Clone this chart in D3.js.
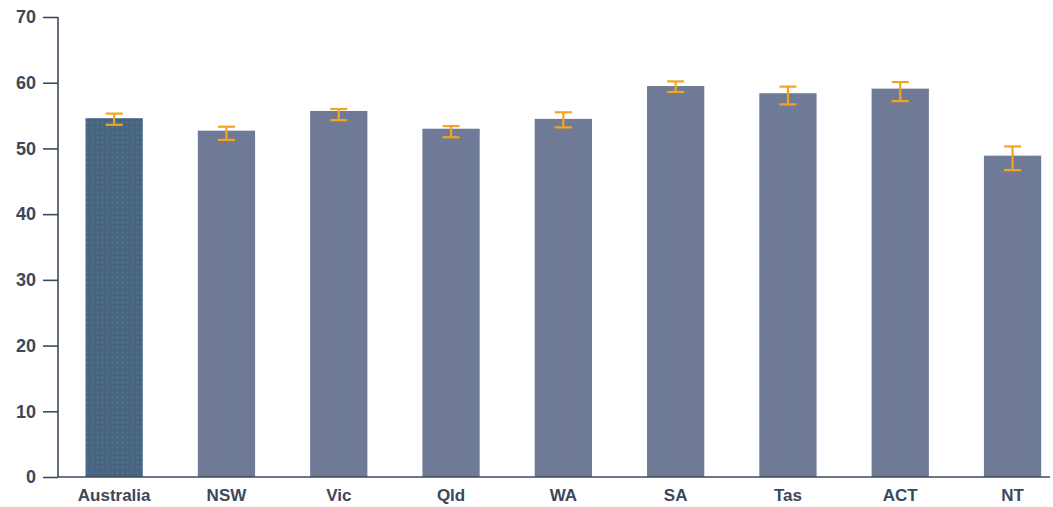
<!DOCTYPE html>
<html>
<head>
<meta charset="utf-8">
<script src="https://cdn.jsdelivr.net/npm/d3@7"></script>
<style>
  html, body { margin: 0; padding: 0; background: #ffffff; }
  svg { display: block; }
  text { font-family: "Liberation Sans", Arial, sans-serif; }
</style>
</head>
<body>
<svg id="chart" width="1053" height="507"></svg>
<script>
const categories = ["Australia", "NSW", "Vic", "Qld", "WA", "SA", "Tas", "ACT", "NT"];
const values = [54.6, 52.7, 55.7, 53.0, 54.5, 59.5, 58.4, 59.1, 48.9];
const upper = [55.3, 53.3, 56.0, 53.4, 55.5, 60.2, 59.4, 60.1, 50.3];
const lower = [53.6, 51.3, 54.3, 51.7, 53.2, 58.6, 56.7, 57.2, 46.7];
const yTicks = [0, 10, 20, 30, 40, 50, 60, 70];

(function () {
const svg = d3.select("#chart");
const mLeft = 58, mTop = 17, mBottom = 477, mRight = 1050;
const axisColor = "#3d4a5e";
const textColor = "#3b475b";

const x = d3.scaleBand().domain(categories).range([mLeft, mLeft + 9 * 112.3]).paddingInner(0.49).paddingOuter(0.245);
const y = d3.scaleLinear().domain([0, 70]).range([mBottom, mTop]);

const defs = svg.append("defs");
function dotPattern(id, bg, dot) {
  const p = defs.append("pattern").attr("id", id).attr("patternUnits", "userSpaceOnUse")
    .attr("width", 5).attr("height", 5);
  p.append("rect").attr("width", 5).attr("height", 5).attr("fill", bg);
  p.append("circle").attr("cx", 2.5).attr("cy", 2.5).attr("r", 0.9).attr("fill", dot);
}
dotPattern("patA", "#4a6480", "#3f7e9a");
dotPattern("patB", "#6d7b96", "#82749a");

// bars
svg.append("g").selectAll("rect").data(categories).join("rect")
  .attr("x", d => x(d))
  .attr("width", x.bandwidth())
  .attr("y", (d, i) => y(values[i]))
  .attr("height", (d, i) => y(0) - y(values[i]))
  .attr("fill", (d, i) => i === 0 ? "url(#patA)" : "url(#patB)");

// error bars
const eb = svg.append("g").attr("stroke", "#f5a51c").attr("stroke-width", 2.2).attr("fill", "none");
categories.forEach((c, i) => {
  const cx = x(c) + x.bandwidth() / 2;
  const cw = 8.5;
  eb.append("line").attr("x1", cx).attr("x2", cx).attr("y1", y(upper[i])).attr("y2", y(lower[i]));
  eb.append("line").attr("x1", cx - cw).attr("x2", cx + cw).attr("y1", y(upper[i])).attr("y2", y(upper[i]));
  eb.append("line").attr("x1", cx - cw).attr("x2", cx + cw).attr("y1", y(lower[i])).attr("y2", y(lower[i]));
});

// y axis
const yAxis = d3.axisLeft(y).tickValues(yTicks).tickSize(15).tickPadding(7).tickFormat(d3.format("d"));
const gy = svg.append("g").attr("transform", `translate(${mLeft},0)`).call(yAxis);
gy.select(".domain").attr("stroke", axisColor).attr("stroke-width", 1.6).attr("d", `M0,${mTop}V${mBottom}`);
gy.selectAll(".tick line").attr("stroke", axisColor).attr("stroke-width", 1.6);
gy.selectAll(".tick text").attr("fill", textColor).attr("font-size", 18).attr("font-weight", "bold")
  .style("font-family", "'Liberation Sans', Arial, sans-serif");

// x axis
const xAxis = d3.axisBottom(x).tickSize(0).tickPadding(12);
const gx = svg.append("g").attr("transform", `translate(0,${mBottom})`).call(xAxis);
gx.select(".domain").attr("stroke", axisColor).attr("stroke-width", 1.6).attr("d", `M${mLeft},0H${mRight}`);
gx.selectAll(".tick text").attr("fill", textColor).attr("font-size", 17).attr("font-weight", "bold")
  .style("font-family", "'Liberation Sans', Arial, sans-serif");
})();
</script>
</body>
</html>
